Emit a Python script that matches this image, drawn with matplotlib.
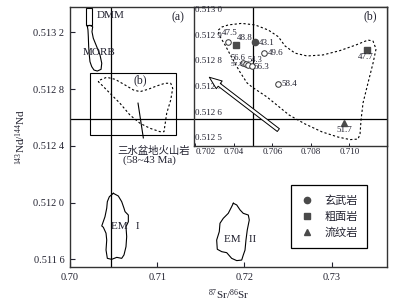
import matplotlib
matplotlib.use("Agg")
import matplotlib.pyplot as plt
from matplotlib.lines import Line2D
from matplotlib.patches import Rectangle

plt.rcParams["font.family"] = ["Liberation Serif", "Noto Sans CJK SC"]
plt.rcParams["mathtext.fontset"] = "custom"
plt.rcParams["mathtext.rm"] = "Liberation Serif"
plt.rcParams["mathtext.it"] = "Liberation Serif:italic"

INK = "#222230"
MARK = "#4a4a4a"
CJK = ["Noto Sans CJK SC", "DejaVu Sans"]

# ---- main diagram (a) ----
main_xticks = [0.70, 0.71, 0.72, 0.73]
main_xticklabels = ["0.70", "0.71", "0.72", "0.73"]
main_yticks = [0.5116, 0.5120, 0.5124, 0.5128, 0.5132]
main_yticklabels = ["0.511 6", "0.512 0", "0.512 4", "0.512 8", "0.513 2"]
bse_sr_main = 0.7047
chur_nd_main = 0.51259

dmm_sr = [0.70183, 0.70249]
dmm_nd = [0.513251, 0.513373]

morb_sr = [0.70198, 0.70229, 0.70260, 0.70252, 0.70267, 0.70306, 0.70344, 0.70364, 0.70356,
           0.70313, 0.70275, 0.70249, 0.70229, 0.70221, 0.70214, 0.70210, 0.70206, 0.70198]
morb_nd = [0.513244, 0.513249, 0.513239, 0.513204, 0.513158, 0.513099, 0.513040, 0.512982, 0.512939,
           0.512927, 0.512934, 0.512958, 0.512993, 0.513040, 0.513099, 0.513169, 0.513216, 0.513244]

em1_sr = [0.70497, 0.70554, 0.70593, 0.70619, 0.70631, 0.70669, 0.70669, 0.70642, 0.70650, 0.70642,
          0.70619, 0.70593, 0.70536, 0.70478, 0.70428, 0.70413, 0.70421, 0.70413, 0.70382, 0.70364,
          0.70401, 0.70421, 0.70428, 0.70451, 0.70497]
em1_nd = [0.512066, 0.512047, 0.512007, 0.511961, 0.511937, 0.511913, 0.511866, 0.511831, 0.511761, 0.511690,
          0.511632, 0.511608, 0.511615, 0.511601, 0.511608, 0.511667, 0.511737, 0.511785, 0.511827, 0.511836,
          0.511901, 0.511961, 0.512007, 0.512042, 0.512066]

em2_sr = [0.71873, 0.71912, 0.71950, 0.71987, 0.72045, 0.72056, 0.72033, 0.72018, 0.72007, 0.71987,
          0.71969, 0.71912, 0.71854, 0.71797, 0.71740, 0.71689, 0.71682, 0.71712, 0.71720, 0.71758,
          0.71815, 0.71854, 0.71873]
em2_nd = [0.511996, 0.511984, 0.511949, 0.511925, 0.511913, 0.511878, 0.511808, 0.511737, 0.511666, 0.511631,
          0.511596, 0.511592, 0.511608, 0.511648, 0.511655, 0.511672, 0.511737, 0.511796, 0.511855, 0.511890,
          0.511925, 0.511972, 0.511996]

box_b_sr = [0.7023, 0.7121]
box_b_nd = [0.51248, 0.51291]

field_main_sr = [0.70344, 0.70421, 0.70516, 0.70631, 0.70726, 0.70803, 0.70898, 0.70994, 0.71089, 0.71155,
                 0.71178, 0.71155, 0.71109, 0.71089, 0.71078, 0.71032, 0.70917, 0.70803, 0.70688, 0.70573,
                 0.70459, 0.70364, 0.70325, 0.70344]
field_main_nd = [0.512864, 0.512883, 0.512869, 0.512829, 0.512794, 0.512782, 0.512799, 0.512822, 0.512841, 0.512841,
                 0.512806, 0.512723, 0.512630, 0.512547, 0.512500, 0.512500, 0.512524, 0.512559, 0.512617, 0.512700,
                 0.512770, 0.512829, 0.512852, 0.512864]

# ---- enlarged diagram (b) ----
inset_xticks = [0.702, 0.704, 0.706, 0.708, 0.710]
inset_xticklabels = ["0.702", "0.704", "0.706", "0.708", "0.710"]
inset_yticks = [0.5130, 0.5129, 0.5128, 0.5127, 0.5126, 0.5125]
inset_yticklabels = ["0.513 0", "0.512 9", "0.512 8", "0.512 7", "0.512 6", "0.512 5"]
bse_sr_inset = 0.70501
chur_nd_inset = 0.512575

field_sr = [0.703195, 0.703387, 0.703714, 0.704410, 0.705101, 0.705792, 0.706312, 0.706660, 0.707179, 0.707803,
            0.708634, 0.709517, 0.710348, 0.710971, 0.711231, 0.711387, 0.711231, 0.710971, 0.710712, 0.710608,
            0.710556, 0.710452, 0.710036, 0.709413, 0.708582, 0.707699, 0.706868, 0.705725, 0.704945, 0.704686,
            0.704322, 0.703906, 0.703543, 0.703231, 0.703195]
field_nd = [0.512922, 0.512934, 0.512942, 0.512948, 0.512942, 0.512922, 0.512896, 0.512860, 0.512832, 0.512821,
            0.512825, 0.512842, 0.512864, 0.512883, 0.512879, 0.512848, 0.512793, 0.512716, 0.512638, 0.512571,
            0.512517, 0.512497, 0.512495, 0.512505, 0.512525, 0.512556, 0.512591, 0.512661, 0.512700, 0.512716,
            0.512758, 0.512813, 0.512864, 0.512903, 0.512922]

# basalt: open circles (filled one for 43.1)
basalt_open_sr = [0.703714, 0.705584, 0.704494, 0.704634, 0.704753, 0.704930, 0.706281]
basalt_open_nd = [0.512874, 0.512834, 0.512792, 0.512788, 0.512786, 0.512783, 0.512710]
basalt_fill_sr = [0.705101]
basalt_fill_nd = [0.512874]
trachyte_sr = [0.704099, 0.710935]
trachyte_nd = [0.512864, 0.512844]
rhyolite_sr = [0.709725]
rhyolite_nd = [0.512561]

age_labels = ["47.5", "48.8", "43.1", "49.6", "56.6", "57.8", "54.3", "56.3", "58.4", "47.7", "51.7"]
age_label_sr = [0.703387, 0.704151, 0.705325, 0.705792, 0.703813, 0.703813, 0.704700, 0.705013, 0.706488,
                0.710857, 0.709735]
age_label_nd = [0.512912, 0.512890, 0.512873, 0.512834, 0.512814, 0.512788, 0.512806, 0.512777, 0.512712,
                0.512818, 0.512532]
age_label_ha = ["left"] * 9 + ["center", "center"]
age_label_size = [6.5, 6.5, 6.5, 6.5, 6, 5.3, 6, 6.5, 6.5, 6.5, 6.5]

arrow_from = (0.706312, 0.512532)
arrow_to = (0.702727, 0.512738)

legend_labels = ["玄武岩", "粗面岩", "流纹岩"]

fig = plt.figure(figsize=(3.96, 3.06), dpi=100)
ax = fig.add_axes([0.1768, 0.1265, 0.7997, 0.8506])

ax.set_xlim(0.70, 0.73632)
ax.set_ylim(0.511545, 0.513378)
ax.set_xticks(main_xticks)
ax.set_xticklabels(main_xticklabels)
ax.set_yticks(main_yticks)
ax.set_yticklabels(main_yticklabels)
ax.tick_params(direction="in", length=3.5, width=0.8, labelsize=7.5, colors=INK, pad=4)
for s in ax.spines.values():
    s.set_linewidth(1.0)
    s.set_color("#333")

ax.axvline(bse_sr_main, color="black", lw=0.9)
ax.axhline(chur_nd_main, color="black", lw=0.9)

ax.add_patch(Rectangle((dmm_sr[0], dmm_nd[0]), dmm_sr[1] - dmm_sr[0], dmm_nd[1] - dmm_nd[0],
                       fill=False, ec="black", lw=0.8))
ax.plot(morb_sr, morb_nd, color="black", lw=0.8)
ax.plot(em1_sr, em1_nd, color="black", lw=0.8)
ax.plot(em2_sr, em2_nd, color="black", lw=0.8)
ax.add_patch(Rectangle((box_b_sr[0], box_b_nd[0]), box_b_sr[1] - box_b_sr[0], box_b_nd[1] - box_b_nd[0],
                       fill=False, ec="black", lw=0.8))
ax.plot(field_main_sr, field_main_nd, color="black", lw=0.8, ls=(0, (2, 2)))
ax.plot([0.70780, 0.70841], [0.512701, 0.512456], color="black", lw=0.8)

ax.text(0.70306, 0.513315, "DMM", fontsize=8, color=INK, va="center")
ax.text(0.71239, 0.513306, "(a)", fontsize=8.5, color=INK, ha="center", va="center")
ax.text(0.70146, 0.513059, "MORB", fontsize=8, color=INK, va="center")
ax.text(0.70808, 0.512859, "(b)", fontsize=8.5, color=INK, ha="center", va="center")
ax.text(0.70470, 0.511831, "EM   I", fontsize=8, color=INK, va="center")
ax.text(0.71766, 0.511742, "EM   II", fontsize=8, color=INK, va="center")
ax.text(0.70963, 0.512367, "三水盆地火山岩", family=CJK, fontsize=7.5, color=INK, ha="center", va="center")
ax.text(0.70906, 0.512296, "(58~43 Ma)", fontsize=8, color=INK, ha="center", va="center")

ax.set_xlabel("$^{87}$Sr/$^{86}$Sr", fontsize=8, color=INK, labelpad=4)
ax.set_ylabel("$^{143}$Nd/$^{144}$Nd", fontsize=8, color=INK, labelpad=4)

handles = [
    Line2D([], [], ls="none", marker="o", ms=4.5, color=MARK),
    Line2D([], [], ls="none", marker="s", ms=4.5, color=MARK),
    Line2D([], [], ls="none", marker="^", ms=5, color=MARK),
]
leg = ax.legend(handles, legend_labels, loc="upper left", bbox_to_anchor=(0.697, 0.316),
                prop={"family": CJK, "size": 8}, fancybox=False, edgecolor="black",
                framealpha=1, borderaxespad=0, borderpad=0.9, labelspacing=0.55,
                handlelength=1.2, handletextpad=0.9)
leg.get_frame().set_linewidth(0.9)
for t in leg.get_texts():
    t.set_color(INK)

# ---- inset (b) ----
axi = fig.add_axes([0.4907, 0.5245, 0.4859, 0.4536])
axi.set_xlim(0.701948, 0.711943)
axi.set_ylim(0.512472, 0.513013)
axi.set_xticks(inset_xticks)
axi.set_xticklabels(inset_xticklabels)
axi.set_yticks(inset_yticks)
axi.set_yticklabels([])
axi.tick_params(axis="x", direction="in", length=2, width=0.7, labelsize=6.5, colors=INK, pad=1.5)
axi.tick_params(axis="y", direction="in", length=0)
axi.get_xticklabels()[0].set_horizontalalignment("left")
for s in axi.spines.values():
    s.set_linewidth(1.0)
    s.set_color("#333")
for v, lab in zip(inset_yticks, inset_yticklabels):
    axi.text(0.004, v, lab, transform=axi.get_yaxis_transform(), fontsize=6.5,
             color=INK, ha="left", va="center")

axi.axvline(bse_sr_inset, color="black", lw=0.9)
axi.axhline(chur_nd_inset, color="black", lw=0.9)
axi.plot(field_sr, field_nd, color="black", lw=0.8, ls=(0, (2, 2)))

axi.annotate("", xy=arrow_to, xytext=arrow_from,
             arrowprops=dict(arrowstyle="simple,head_length=0.9,head_width=0.7,tail_width=0.25",
                             fc="white", ec="black", lw=0.7, shrinkA=0, shrinkB=0))

axi.plot(basalt_open_sr, basalt_open_nd, ls="none", marker="o", ms=4, mfc="white", mec="#333", mew=0.7)
axi.plot(basalt_fill_sr, basalt_fill_nd, ls="none", marker="o", ms=4.5, color=MARK)
axi.plot(trachyte_sr, trachyte_nd, ls="none", marker="s", ms=4.5, color=MARK)
axi.plot(rhyolite_sr, rhyolite_nd, ls="none", marker="^", ms=5, color=MARK)

for lab, x, y, ha, fs in zip(age_labels, age_label_sr, age_label_nd, age_label_ha, age_label_size):
    axi.text(x, y, lab, fontsize=fs, color=INK, ha=ha, va="center")

axi.text(0.711075, 0.512974, "(b)", fontsize=8.5, color=INK, ha="center", va="center")

fig.savefig("out.png", dpi=100)
